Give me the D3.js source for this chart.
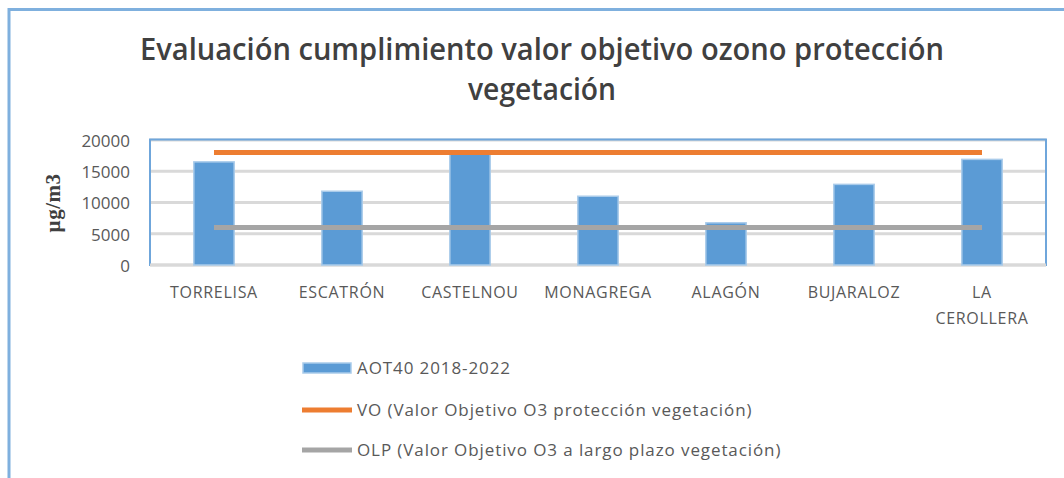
<!DOCTYPE html>
<html>
<head>
<meta charset="utf-8">
<script src="https://cdn.jsdelivr.net/npm/d3@7"></script>
<style>
  body { margin: 0; background: #fff; }
  svg { display: block; }
</style>
</head>
<body>
<svg id="chart" width="1064" height="478"></svg>
<script>
// chart data
var stations = ['TORRELISA', 'ESCATRÓN', 'CASTELNOU', 'MONAGREGA', 'ALAGÓN', 'BUJARALOZ', 'LA CEROLLERA'];
var aot40 = [16500, 11800, 18000, 11000, 6750, 12900, 16900];
var vo = [18000, 18000, 18000, 18000, 18000, 18000, 18000];
var olp = [6000, 6000, 6000, 6000, 6000, 6000, 6000];
var yTicks = [0, 5000, 10000, 15000, 20000];
var seriesNames = ['AOT40 2018-2022', 'VO (Valor Objetivo O3 protección vegetación)', 'OLP (Valor Objetivo O3 a largo plazo vegetación)'];
var titleLines = ['Evaluación cumplimiento valor objetivo ozono protección', 'vegetación'];

const svg = d3.select('#chart');
const font = "'Open Sans', 'Liberation Sans', sans-serif";

// outer chart border (only left and top visible)
svg.append('path')
    .attr('d', 'M9,478 V9.5 H1064')
    .attr('fill', 'none')
    .attr('stroke', '#7fb0de')
    .attr('stroke-width', 3);

var x = d3.scaleBand()
    .domain(stations)
    .range([150, 1046])
    .paddingInner(0.685)
    .paddingOuter(0.3425);

var y = d3.scaleLinear()
    .domain([0, 20000])
    .range([265, 140]);

// title
var title = svg.append('g');
titleLines.forEach(function(t, i) {
    title.append('text')
        .attr('x', 542)
        .attr('y', 60 + i * 40)
        .attr('text-anchor', 'middle')
        .attr('font-family', font)
        .attr('font-weight', 600)
        .attr('font-size', 30)
        .attr('fill', '#404040')
        .attr('textLength', i === 0 ? 804 : 148)
        .attr('lengthAdjust', 'spacingAndGlyphs')
        .text(t);
});

// gridlines
svg.append('g')
    .selectAll('line')
    .data(yTicks)
    .enter()
    .append('line')
    .attr('x1', 150)
    .attr('x2', 1046)
    .attr('y1', d => y(d))
    .attr('y2', d => y(d))
    .attr('stroke', '#d9d9d9')
    .attr('stroke-width', 3);

// plot frame
svg.append('rect')
    .attr('x', 150)
    .attr('y', 139.5)
    .attr('width', 896)
    .attr('height', 125.5)
    .attr('fill', 'none')
    .attr('stroke', '#6fa6db')
    .attr('stroke-width', 2);
svg.append('line')
    .attr('x1', 150).attr('x2', 1046)
    .attr('y1', y(0)).attr('y2', y(0))
    .attr('stroke', '#d9d9d9')
    .attr('stroke-width', 3);

// y axis labels
var yAxis = d3.axisLeft(y).tickValues(yTicks).tickSize(0).tickPadding(0).tickFormat(d3.format('d'));
svg.append('g')
    .attr('transform', 'translate(130,1)')
    .call(yAxis)
    .call(g => g.select('.domain').remove())
    .selectAll('text')
    .attr('font-family', font)
    .attr('font-size', 17)
    .attr('fill', '#595959');

svg.append('text')
    .attr('transform', 'translate(60,203) rotate(-90)')
    .attr('text-anchor', 'middle')
    .attr('font-family', "'Liberation Serif', serif")
    .attr('font-weight', 'bold')
    .attr('font-size', 21)
    .attr('fill', '#404040')
    .attr('letter-spacing', 0.5)
    .text('µg/m3');

// bars
svg.append('g')
    .selectAll('rect')
    .data(aot40)
    .enter()
    .append('rect')
    .attr('x', (d, i) => x(stations[i]))
    .attr('y', d => y(d))
    .attr('width', x.bandwidth())
    .attr('height', d => y(0) - y(d))
    .attr('fill', '#5b9bd5')
    .attr('stroke', '#a9cbea')
    .attr('stroke-width', 1.5);

// lines
var line = d3.line()
    .x((d, i) => x(stations[i]) + x.bandwidth() / 2)
    .y(d => y(d));

svg.append('path')
    .datum(olp)
    .attr('d', line)
    .attr('fill', 'none')
    .attr('stroke', '#a5a5a5')
    .attr('stroke-width', 5);

svg.append('path')
    .datum(vo)
    .attr('d', line)
    .attr('fill', 'none')
    .attr('stroke', '#ed7d31')
    .attr('stroke-width', 5);

// x labels
var xl = svg.append('g');
stations.forEach(function(s) {
    var parts = s === 'LA CEROLLERA' ? ['LA', 'CEROLLERA'] : [s];
    parts.forEach(function(p, j) {
        xl.append('text')
            .attr('x', x(s) + x.bandwidth() / 2)
            .attr('y', 298 + j * 26)
            .attr('text-anchor', 'middle')
            .attr('font-family', font)
            .attr('font-size', 16)
            .attr('letter-spacing', 0.7)
            .attr('fill', '#595959')
            .text(p);
    });
});

// legend
var legend = svg.append('g');
var ly = [368, 410, 450];
legend.append('rect')
    .attr('x', 303).attr('y', ly[0] - 5)
    .attr('width', 48).attr('height', 10)
    .attr('fill', '#5b9bd5')
    .attr('stroke', '#a9cbea')
    .attr('stroke-width', 1.5);
legend.append('line')
    .attr('x1', 302).attr('x2', 352)
    .attr('y1', ly[1]).attr('y2', ly[1])
    .attr('stroke', '#ed7d31').attr('stroke-width', 5);
legend.append('line')
    .attr('x1', 302).attr('x2', 352)
    .attr('y1', ly[2]).attr('y2', ly[2])
    .attr('stroke', '#a5a5a5').attr('stroke-width', 5);
seriesNames.forEach(function(n, i) {
    legend.append('text')
        .attr('x', 357)
        .attr('y', ly[i] + 6)
        .attr('font-family', font)
        .attr('font-size', 17)
        .attr('letter-spacing', 0.9)
        .attr('fill', '#595959')
        .text(n);
});
</script>
</body>
</html>
